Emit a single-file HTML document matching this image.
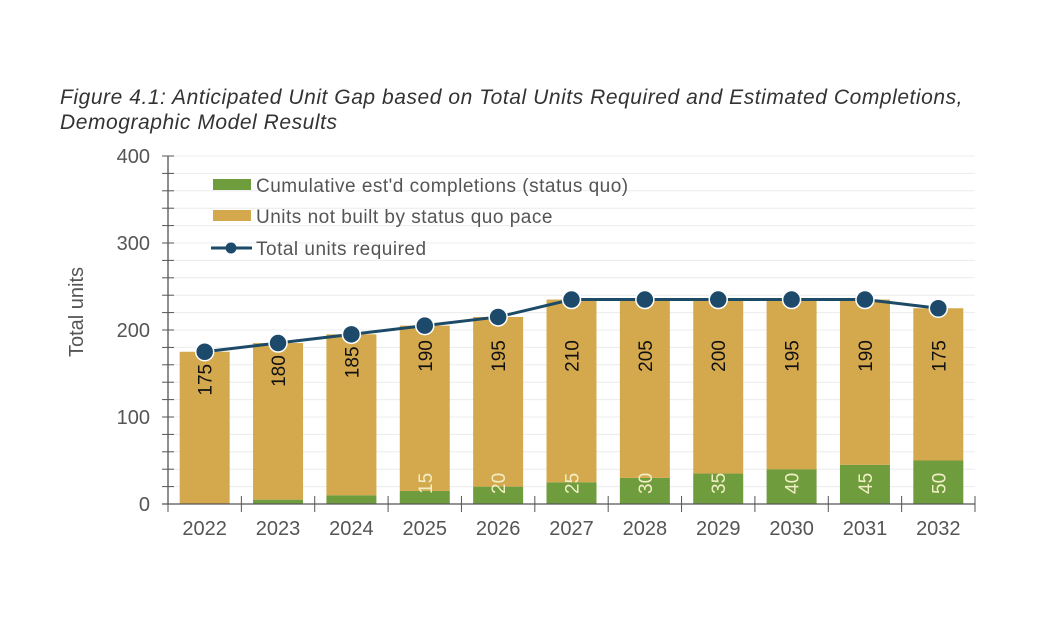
<!DOCTYPE html>
<html><head><meta charset="utf-8">
<style>
body{margin:0;background:#fff;width:1062px;height:628px;overflow:hidden;font-family:"Liberation Sans",sans-serif}
.title{position:absolute;left:60px;top:85px;font-size:21px;letter-spacing:0.55px;font-style:italic;color:#333;line-height:25px}
</style></head><body>
<div class="title">Figure 4.1: Anticipated Unit Gap based on Total Units Required and Estimated Completions,<br>Demographic Model Results</div>
<svg id="chart" width="1062" height="628" style="position:absolute;left:0;top:0"></svg>
<script>
const categories=["2022","2023","2024","2025","2026","2027","2028","2029","2030","2031","2032"];
const completions=[0,5,10,15,20,25,30,35,40,45,50];
const notBuilt=[175,180,185,190,195,210,205,200,195,190,175];
const totalRequired=[175,185,195,205,215,235,235,235,235,235,225];
const yTicks=[0,100,200,300,400];
const svg=document.getElementById('chart');
const NS='http://www.w3.org/2000/svg';
const L=168,R=975,T=156,B=504,MAX=400;
const y=v=>B-(v/MAX)*(B-T);
const bw=(R-L)/categories.length;
const xc=i=>L+bw*(i+0.5);
function mk(t,a,p){const e=document.createElementNS(NS,t);for(const k in a)e.setAttribute(k,a[k]);(p||svg).appendChild(e);return e;}
for(let v=20;v<=MAX;v+=20){const g=mk('line',{x1:L,x2:R,y1:y(v),y2:y(v),stroke:'#ececec','stroke-width':1});

}
categories.forEach((c,i)=>{
 const w=50,x=xc(i)-w/2;
 const g=mk('rect',{x:x,y:y(completions[i]),width:w,height:B-y(completions[i]),fill:'#6f9c3c'});
 
 
 const top=completions[i]+notBuilt[i];
 const o=mk('rect',{x:x,y:y(top),width:w,height:y(completions[i])-y(top),fill:'#d4a84c'});
 
 
 const ly=Math.max(y(top)+28,356);
 const t=mk('text',{x:0,y:0,transform:`translate(${xc(i)+7},${ly}) rotate(-90)`,'text-anchor':'middle','font-size':19,fill:'#111'});
 t.textContent=notBuilt[i];
 
 
 if(completions[i]>=15){
  const t2=mk('text',{x:0,y:0,transform:`translate(${xc(i)+7},${B-10}) rotate(-90)`,'text-anchor':'start','font-size':19,fill:'#f2efc6'});
  t2.textContent=completions[i];
  
  
 }
});
const ya=mk('line',{x1:L,x2:L,y1:T,y2:B,stroke:'#555','stroke-width':1.3});


const xa=mk('line',{x1:L-6,x2:R,y1:B,y2:B,stroke:'#555','stroke-width':1.3});


for(let v=0;v<=MAX;v+=20){const tk=mk('line',{x1:L-6,x2:L+6,y1:y(v),y2:y(v),stroke:'#555','stroke-width':1});

}
yTicks.forEach(v=>{const t=mk('text',{x:L-18,y:y(v)+7,'text-anchor':'end','font-size':20,fill:'#555'});t.textContent=v;

});
for(let i=0;i<=categories.length;i++){const tk=mk('line',{x1:L+bw*i,x2:L+bw*i,y1:B-8,y2:B+8,stroke:'#555','stroke-width':1});

}
categories.forEach((c,i)=>{const t=mk('text',{x:xc(i),y:535,'text-anchor':'middle','font-size':20,fill:'#555'});t.textContent=c;

});
const yt=mk('text',{x:0,y:0,transform:'translate(83,312) rotate(-90)','text-anchor':'middle','font-size':20,fill:'#555'});yt.textContent='Total units';


const pts=totalRequired.map((v,i)=>xc(i)+','+y(v)).join(' ');
const pl=mk('polyline',{points:pts,fill:'none',stroke:'#1d4a66','stroke-width':3});


totalRequired.forEach((v,i)=>{const c=mk('circle',{cx:xc(i),cy:y(v),r:9,fill:'#1d4a6b',stroke:'#fff','stroke-width':1.5});

});
const lg=[['rect','#6f9c3c',"Cumulative est'd completions (status quo)",185],['rect','#d4a84c','Units not built by status quo pace',216],['line','#1d4a66','Total units required',248]];
lg.forEach(d=>{
 if(d[0]=='rect'){const r=mk('rect',{x:213,y:d[3]-6,width:38,height:11,fill:d[1]});
 
 }
 else{const l=mk('line',{x1:211,x2:252,y1:d[3],y2:d[3],stroke:d[1],'stroke-width':3});
 
 
 const c=mk('circle',{cx:231,cy:d[3],r:5.5,fill:'#1d4a6b'});
 
 }
 const t=mk('text',{x:256,y:d[3]+7,'font-size':19,'letter-spacing':0.5,fill:'#555'});t.textContent=d[2];
 
 
});
</script>
</body></html>
